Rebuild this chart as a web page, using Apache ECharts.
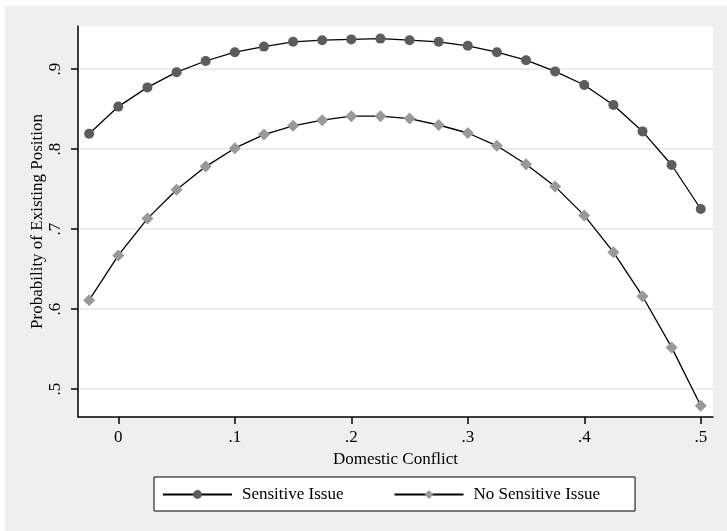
<!DOCTYPE html>
<html>
<head>
<meta charset="utf-8">
<script src="https://cdn.jsdelivr.net/npm/echarts@6/dist/echarts.min.js"></script>
<style>
  html, body { margin: 0; padding: 0; background: #ffffff; }
  #chart { position: absolute; left: 5px; top: 6px; width: 722px; height: 525px; }
</style>
</head>
<body>
<div id="chart"></div>
<script>
// Predicted probabilities across levels of domestic conflict
const conflict = [-0.025, 0, 0.025, 0.05, 0.075, 0.1, 0.125, 0.15, 0.175, 0.2, 0.225,
                  0.25, 0.275, 0.3, 0.325, 0.35, 0.375, 0.4, 0.425, 0.45, 0.475, 0.5];
const sensitive = [0.819, 0.853, 0.877, 0.896, 0.910, 0.921, 0.928, 0.934, 0.936, 0.937, 0.938,
                   0.936, 0.934, 0.929, 0.921, 0.911, 0.897, 0.880, 0.855, 0.822, 0.780, 0.725];
const notSensitive = [0.611, 0.667, 0.713, 0.749, 0.778, 0.801, 0.818, 0.829, 0.836, 0.841, 0.841,
                      0.838, 0.830, 0.820, 0.804, 0.781, 0.753, 0.717, 0.671, 0.616, 0.552, 0.479];
const xTicks = [0, 0.1, 0.2, 0.3, 0.4, 0.5];
const yTicks = [0.5, 0.6, 0.7, 0.8, 0.9];

const FONT = '"Liberation Serif", "Times New Roman", serif';
const fmt = v => (Math.abs(v) < 1e-9 ? '0' : v.toFixed(1).replace(/^0/, ''));

const chart = echarts.init(document.getElementById('chart'));
chart.setOption({
  backgroundColor: '#efefef',
  animation: false,
  textStyle: { fontFamily: FONT },
  grid: {
    left: 73, right: 14, top: 20, bottom: 114,
    show: true, backgroundColor: '#ffffff', borderWidth: 0
  },
  legend: {
    left: 149, top: 471,
    orient: 'horizontal',
    backgroundColor: '#ffffff',
    borderColor: '#000000', borderWidth: 1,
    padding: [9, 35, 8, 8],
    itemWidth: 69, itemHeight: 11, itemGap: 50,
    textStyle: { fontFamily: FONT, fontSize: 17, color: '#000', padding: [0, 0, 0, 5] },
    data: ['Sensitive Issue', 'No Sensitive Issue']
  },
  xAxis: {
    type: 'value',
    min: -0.0346, max: 0.5105,
    name: 'Domestic Conflict', nameLocation: 'middle', nameGap: 34,
    nameMoveOverlap: false,
    nameTextStyle: { fontFamily: FONT, fontSize: 17, color: '#000' },
    axisLine: { show: true, onZero: false, lineStyle: { color: '#000', width: 1.5 } },
    axisTick: { show: true, length: 7, customValues: xTicks, lineStyle: { color: '#000', width: 1.5 } },
    axisLabel: { customValues: xTicks, formatter: fmt, fontFamily: FONT, fontSize: 17, color: '#000', margin: 12 },
    splitLine: { show: false }
  },
  yAxis: {
    type: 'value',
    min: 0.465, max: 0.95375,
    name: 'Probability of Existing Position', nameLocation: 'middle', nameGap: 32,
    nameMoveOverlap: false,
    nameTextStyle: { fontFamily: FONT, fontSize: 17, color: '#000' },
    axisLine: { show: true, onZero: false, lineStyle: { color: '#000', width: 1.5 } },
    axisTick: { show: true, length: 7, customValues: yTicks, lineStyle: { color: '#000', width: 1.5 } },
    axisLabel: { customValues: yTicks, formatter: fmt, rotate: 90, fontFamily: FONT, fontSize: 17, color: '#000', margin: 14 },
    splitLine: { show: true, lineStyle: { color: '#e6e6e6', width: 1.5 } }
  },
  series: [
    {
      name: 'Sensitive Issue',
      type: 'line',
      data: conflict.map((x, i) => [x, sensitive[i]]),
      symbol: 'circle', symbolSize: 10,
      itemStyle: { color: '#5c5c5c' },
      lineStyle: { color: '#000', width: 1.3 },
      smooth: false, z: 3
    },
    {
      name: 'No Sensitive Issue',
      type: 'line',
      data: conflict.map((x, i) => [x, notSensitive[i]]),
      symbol: 'diamond', symbolSize: 12,
      itemStyle: { color: '#999999' },
      lineStyle: { color: '#000', width: 1.3 },
      smooth: false, z: 3
    }
  ]
});
</script>
</body>
</html>
